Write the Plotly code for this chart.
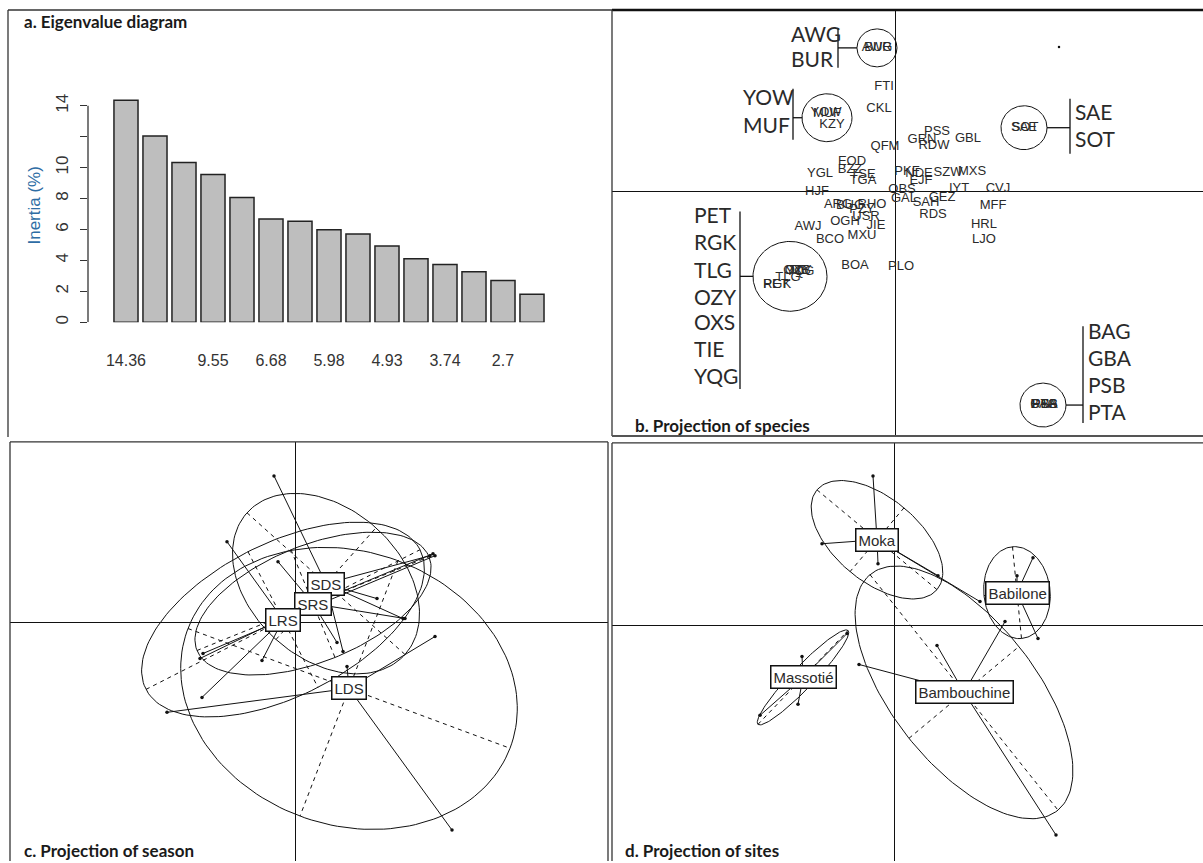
import numpy as np
import plotly.graph_objects as go

W, H = 1203, 863

# ---------------- a. eigenvalue diagram (% of inertia per axis)
inertia = [14.36, 12.05, 10.33, 9.55, 8.07, 6.68, 6.53, 5.98, 5.70, 4.93, 4.10, 3.74, 3.27, 2.70, 1.81]
printed_bars = [0, 3, 5, 7, 9, 11, 13]          # bars whose value is printed below the axis
inertia_ticks = [0, 2, 4, 6, 8, 10, 12, 14]
inertia_ticktext = ["0", "2", "4", "6", "8", "10", "", "14"]

# ---------------- b. species scores on factorial axes 1 and 2
species = ["QFM", "GRN", "PSS", "RDW", "GBL", "EOD", "BZZ", "TSE", "TGA", "YGL", "HJF",
           "PKF", "NDE", "EJF", "SZW", "MXS", "OBS", "GAL", "IYT", "GEZ", "SAH", "CVJ",
           "MFF", "RDS", "HRL", "LJO", "AWJ", "OGH", "USR", "JIE", "MXU", "BCO", "BOA",
           "PLO", "ARG", "BUG", "PZY", "RHO", "FTI", "CKL", "KZY"]
species_x = [-0.10, 0.27, 0.42, 0.39, 0.73, -0.43, -0.45, -0.32, -0.32, -0.75, -0.78,
             0.12, 0.24, 0.26, 0.53, 0.77, 0.07, 0.09, 0.64, 0.47, 0.31, 1.03,
             0.98, 0.38, 0.89, 0.89, -0.87, -0.50, -0.29, -0.19, -0.33, -0.65, -0.40,
             0.06, -0.57, -0.45, -0.33, -0.23, -0.11, -0.16, -0.63]
species_y = [0.45, 0.52, 0.60, 0.46, 0.53, 0.30, 0.22, 0.17, 0.11, 0.18, 0.00,
             0.20, 0.18, 0.11, 0.19, 0.20, 0.02, -0.07, 0.03, -0.06, -0.11, 0.03,
             -0.14, -0.23, -0.33, -0.48, -0.35, -0.30, -0.25, -0.34, -0.44, -0.48, -0.74,
             -0.75, -0.13, -0.14, -0.18, -0.13, 1.05, 0.83, 0.67]

# species sharing (almost) the same scores: circled and listed beside a bracket
circled = ["AWG", "BUR", "YOW", "MUF", "SAE", "SOT", "OZY", "OXS", "TIE", "YQG", "TLG",
           "PET", "RGK", "BAG", "GBA", "PSB", "PTA"]
circled_x = [-0.18, -0.17, -0.69, -0.68, 1.29, 1.30, -0.97, -0.98, -0.96, -0.95, -1.07,
             -1.19, -1.18, 1.49, 1.49, 1.50, 1.49]
circled_y = [1.44, 1.44, 0.79, 0.78, 0.64, 0.64, -0.79, -0.79, -0.79, -0.80, -0.86,
             -0.93, -0.93, -2.14, -2.14, -2.14, -2.14]
group_members = [["AWG", "BUR"], ["YOW", "MUF"], ["SAE", "SOT"],
                 ["PET", "RGK", "TLG", "OZY", "OXS", "TIE", "YQG"],
                 ["BAG", "GBA", "PSB", "PTA"]]
group_cx = [-0.18, -0.68, 1.29, -1.05, 1.48]
group_cy = [1.44, 0.74, 0.64, -0.85, -2.14]
group_rx = [0.20, 0.25, 0.23, 0.37, 0.23]
group_ry = [0.19, 0.24, 0.22, 0.35, 0.22]

# bracket placement for each group list (axis units)
bracket_layout = [
    dict(bar_x=-0.57, y_top=1.64, y_bot=1.24, text_x=-1.04, text_y=[1.55, 1.30]),
    dict(bar_x=-1.02, y_top=1.03, y_bot=0.52, text_x=-1.52, text_y=[0.92, 0.64]),
    dict(bar_x=1.75, y_top=0.93, y_bot=0.38, text_x=1.80, text_y=[0.77, 0.50]),
    dict(bar_x=-1.55, y_top=-0.20, y_bot=-1.98, text_x=-2.01,
         text_y=[-0.26, -0.53, -0.81, -1.08, -1.34, -1.61, -1.88]),
    dict(bar_x=1.88, y_top=-1.35, y_bot=-2.32, text_x=1.93,
         text_y=[-1.43, -1.70, -1.97, -2.24]),
]
stray_point = (1.64, 1.45)

# ---------------- c. seasons (class centroid, ellipse half-axes, sample scores)
season = ["SDS", "SRS", "LRS", "LDS"]
season_cx = [0.31, 0.18, -0.12, 0.54]
season_cy = [0.39, 0.19, 0.03, -0.66]
season_ax1 = [(0.79, -0.71), (1.16, 0.47), (1.37, 0.70), (1.61, -0.60)]
season_ax2 = [(0.50, 0.56), (0.22, -0.54), (0.35, -0.68), (-0.49, -1.28)]
season_pts_x = [[-0.21, 1.35, 1.08, 0.82, 0.48],
                [-0.17, 0.42, 1.10, 1.38, -0.95],
                [-0.68, -0.93, -0.33, -0.92, 1.40],
                [1.57, -1.28, 1.40, 0.52]]
season_pts_y = [[1.47, 0.67, 0.04, 0.24, -0.29],
                [0.61, -0.20, 0.04, 0.69, -0.36],
                [0.81, -0.75, -0.38, -0.31, 0.67],
                [-2.08, -0.90, -0.14, -0.44]]

# ---------------- d. sites
site = ["Moka", "Babilone", "Bambouchine", "Massotié"]
site_cx = [-0.17, 1.23, 0.70, -0.91]
site_cy = [0.86, 0.33, -0.67, -0.52]
site_ax1 = [(0.60, -0.50), (0.045, -0.46), (0.94, -1.18), (0.45, 0.47)]
site_ax2 = [(-0.27, -0.32), (0.33, 0.03), (0.55, 0.46), (0.08, -0.076)]
site_pts_x = [[-0.21, -0.72, -0.16, 0.44, 0.86],
              [1.39, 1.23, 1.44],
              [0.43, -0.35, 1.11, 1.62],
              [-0.47, -1.34, -0.92, -0.96]]
site_pts_y = [[1.50, 0.82, 0.62, 0.50, 0.24],
              [0.68, 0.50, -0.13],
              [-0.20, -0.39, 0.04, -2.10],
              [-0.08, -0.90, -0.31, -0.79]]

# ------------------------------------------------------------------
INK = "#111111"
TXT = "#2a2a2a"
SANS = "Liberation Sans, Arial, sans-serif"
CAL = "Lato, Open Sans, sans-serif"


def px_x(p):
    return p / W


def px_y(p):
    return 1 - p / H


fig = go.Figure()

# a. bars
fig.add_trace(go.Bar(x=list(range(len(inertia))), y=inertia, width=0.83,
                     marker=dict(color="#bebebe", line=dict(color="#222222", width=1.5)),
                     xaxis="x", yaxis="y", hoverinfo="skip"))


def ellipse(cx, cy, a1, a2, n=160):
    t = np.linspace(0, 2 * np.pi, n)
    return (cx + a1[0] * np.cos(t) + a2[0] * np.sin(t),
            cy + a1[1] * np.cos(t) + a2[1] * np.sin(t))


# b. circled groups and brackets
for k in range(len(group_members)):
    ex, ey = ellipse(group_cx[k], group_cy[k], (group_rx[k], 0), (0, group_ry[k]))
    fig.add_trace(go.Scatter(x=ex, y=ey, mode="lines", line=dict(color=INK, width=1),
                             xaxis="x2", yaxis="y2", hoverinfo="skip"))
    b = bracket_layout[k]
    left = b["bar_x"] < group_cx[k]
    edge = group_cx[k] - group_rx[k] if left else group_cx[k] + group_rx[k]
    fig.add_trace(go.Scatter(x=[b["bar_x"], b["bar_x"], None, b["bar_x"], edge],
                             y=[b["y_top"], b["y_bot"], None, group_cy[k], group_cy[k]],
                             mode="lines", line=dict(color=INK, width=1.3),
                             xaxis="x2", yaxis="y2", hoverinfo="skip"))
    fig.add_trace(go.Scatter(x=[b["text_x"]] * len(group_members[k]), y=b["text_y"],
                             text=group_members[k], mode="text", textposition="middle right",
                             textfont=dict(family=CAL, size=21, color=TXT),
                             xaxis="x2", yaxis="y2", hoverinfo="skip"))

fig.add_trace(go.Scatter(x=species_x, y=species_y, text=species, mode="text",
                         textfont=dict(family=SANS, size=13, color=TXT),
                         xaxis="x2", yaxis="y2", hoverinfo="skip"))
fig.add_trace(go.Scatter(x=circled_x, y=circled_y, text=circled, mode="text",
                         textfont=dict(family=SANS, size=13, color=TXT),
                         xaxis="x2", yaxis="y2", hoverinfo="skip"))
fig.add_trace(go.Scatter(x=[stray_point[0]], y=[stray_point[1]], mode="markers",
                         marker=dict(size=2.5, color=INK), xaxis="x2", yaxis="y2",
                         hoverinfo="skip"))


# c & d. class ellipses with dashed axes and stars
def class_plot(cx, cy, ax1, ax2, ptx, pty, xa, ya):
    for k in range(len(cx)):
        ex, ey = ellipse(cx[k], cy[k], ax1[k], ax2[k])
        fig.add_trace(go.Scatter(x=ex, y=ey, mode="lines", line=dict(color=INK, width=1),
                                 xaxis=xa, yaxis=ya, hoverinfo="skip"))
        u, v = ax1[k], ax2[k]
        fig.add_trace(go.Scatter(
            x=[cx[k] - u[0], cx[k] + u[0], None, cx[k] - v[0], cx[k] + v[0]],
            y=[cy[k] - u[1], cy[k] + u[1], None, cy[k] - v[1], cy[k] + v[1]],
            mode="lines", line=dict(color=INK, width=1, dash="4px,4px"),
            xaxis=xa, yaxis=ya, hoverinfo="skip"))
        sx, sy = [], []
        for px, py in zip(ptx[k], pty[k]):
            sx += [cx[k], px, None]
            sy += [cy[k], py, None]
        fig.add_trace(go.Scatter(x=sx, y=sy, mode="lines", line=dict(color=INK, width=1),
                                 xaxis=xa, yaxis=ya, hoverinfo="skip"))
        fig.add_trace(go.Scatter(x=ptx[k], y=pty[k], mode="markers",
                                 marker=dict(size=3.5, color=INK),
                                 xaxis=xa, yaxis=ya, hoverinfo="skip"))


class_plot(season_cx, season_cy, season_ax1, season_ax2, season_pts_x, season_pts_y, "x3", "y3")
class_plot(site_cx, site_cy, site_ax1, site_ax2, site_pts_x, site_pts_y, "x4", "y4")

annotations = []
for names, cx, cy, xr, yr in [(season, season_cx, season_cy, "x3", "y3"),
                              (site, site_cx, site_cy, "x4", "y4")]:
    for n, x, y in zip(names, cx, cy):
        annotations.append(dict(x=x, y=y, xref=xr, yref=yr, text=n, showarrow=False,
                                font=dict(family=SANS, size=15, color=TXT),
                                bgcolor="white", bordercolor=INK, borderwidth=1.5,
                                borderpad=2))

# panel titles and axis title
for txt, x, y in [("a. Eigenvalue diagram", 22, 22), ("b. Projection of species", 633, 426),
                  ("c. Projection of season", 22, 852), ("d. Projection of sites", 623, 852)]:
    annotations.append(dict(x=px_x(x), y=px_y(y), xref="paper", yref="paper", text="<b>" + txt + "</b>",
                            showarrow=False, xanchor="left", yanchor="middle",
                            font=dict(family=CAL, size=17, color="#1a1a1a")))
annotations.append(dict(x=px_x(35), y=px_y(206), xref="paper", yref="paper", text="Inertia (%)",
                        textangle=-90, showarrow=False, xanchor="center", yanchor="middle",
                        font=dict(family=SANS, size=17, color="#2e6da4")))

# panel frames
FR = "#333333"


def hline(x0, x1, y, w=1.3, c=FR):
    return dict(type="line", xref="paper", yref="paper", x0=px_x(x0), x1=px_x(x1),
                y0=px_y(y), y1=px_y(y), line=dict(color=c, width=w))


def vline(x, y0, y1, w=1.3, c=FR):
    return dict(type="line", xref="paper", yref="paper", x0=px_x(x), x1=px_x(x),
                y0=px_y(y0), y1=px_y(y1), line=dict(color=c, width=w))


shapes = [
    vline(8, 10, 438), hline(8, 612, 10),
    hline(612, 1203, 10, 2.5, "#111"), vline(612, 10, 437), hline(612, 1203, 437, 2, "#555"),
    vline(10, 443, 863), hline(10, 608, 443), vline(608, 443, 863),
    vline(612, 444, 863), hline(612, 1203, 444),
    dict(type="line", xref="paper", yref="y", x0=px_x(88), x1=px_x(88), y0=0, y1=14,
         line=dict(color="#333", width=1.3)),
]

blank = dict(showticklabels=False, ticks="", showgrid=False, showline=False,
             zeroline=True, zerolinecolor=INK, zerolinewidth=1.2, fixedrange=True)

fig.update_layout(
    width=W, height=H, margin=dict(l=0, r=0, t=0, b=0),
    paper_bgcolor="white", plot_bgcolor="white", showlegend=False,
    xaxis=dict(domain=[px_x(88), px_x(560)], range=[-1.31, 14.966], anchor="y",
               tickvals=printed_bars, ticktext=[f"{inertia[i]:g}" for i in printed_bars],
               ticks="", showgrid=False, zeroline=False, showline=False,
               ticklabelstandoff=27, tickfont=dict(family=SANS, size=16, color="#333")),
    yaxis=dict(domain=[px_y(323), px_y(75)], range=[0, 16], anchor="x",
               tickvals=inertia_ticks, ticktext=inertia_ticktext, ticks="outside",
               ticklen=7, tickwidth=1.3, tickcolor="#333", tickangle=-90,
               ticklabelstandoff=5, showgrid=False, zeroline=False, showline=False,
               tickfont=dict(family=SANS, size=17, color="#333")),
    xaxis2=dict(domain=[px_x(612), 1], range=[-2.83, 3.08], anchor="y2", **blank),
    yaxis2=dict(domain=[px_y(437), px_y(10)], range=[-2.45, 1.82], anchor="x2", **blank),
    xaxis3=dict(domain=[px_x(10), px_x(608)], range=[-2.85, 3.13], anchor="y3", **blank),
    yaxis3=dict(domain=[0, px_y(443)], range=[-2.39, 1.81], anchor="x3", **blank),
    xaxis4=dict(domain=[px_x(612), 1], range=[-2.82, 3.09], anchor="y4", **blank),
    yaxis4=dict(domain=[0, px_y(444)], range=[-2.36, 1.83], anchor="x4", **blank),
    annotations=annotations, shapes=shapes,
)

fig.write_html("out.html")
